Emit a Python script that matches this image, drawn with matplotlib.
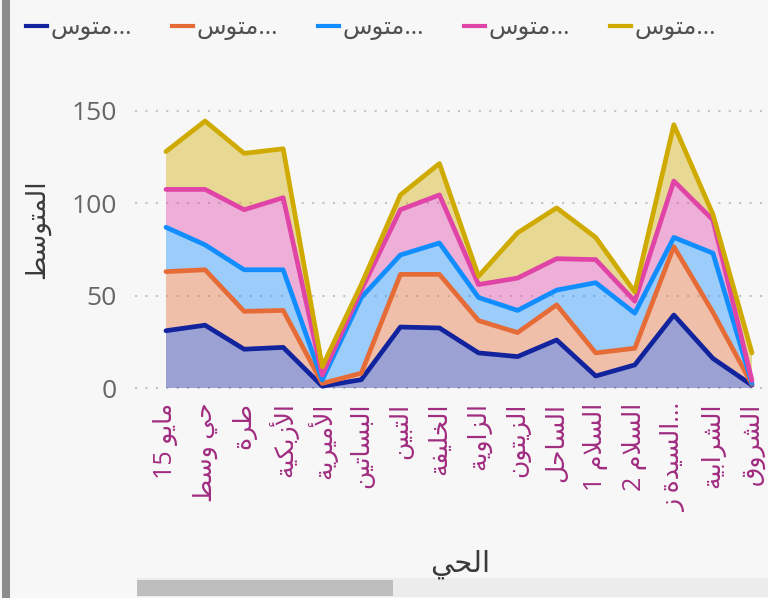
import re
import numpy as np
import matplotlib
matplotlib.use("Agg")
import matplotlib.pyplot as plt
from matplotlib.lines import Line2D
from matplotlib.patches import Rectangle

plt.rcParams['font.family'] = ['Open Sans', 'DejaVu Sans']

# الأحياء (categories)
districts = ["15 مايو", "حي وسط", "طرة", "الأزبكية", "الأميرية", "البساتين",
             "التبين", "الخليفة", "الزاوية", "الزيتون", "الساحل", "السلام 1",
             "السلام 2", "السيدة ز...", "الشرابية", "الشروق"]

# legend labels (truncated as in the report)
series_names = ["متوس...", "متوس...", "متوس...", "متوس...", "متوس..."]

# stacked series values (bottom -> top)
s_navy   = [31, 34, 21, 22, 1, 4.5, 33, 32.5, 19, 17, 26, 6.5, 12.5, 39.5, 16, 1.5]
s_orange = [32, 30, 20.5, 20, 1.5, 3.5, 28.5, 29, 17.5, 13, 19, 12.5, 9, 37, 25, 0.5]
s_blue   = [24, 13.5, 22.5, 22, 1.8, 41, 10.5, 17, 12.5, 12, 8, 38, 19, 5, 32, 0.5]
s_pink   = [20.5, 30, 32.5, 39, 2.7, 4, 24.5, 26, 7, 17.5, 17, 12.5, 6.5, 30.5, 18, 1.5]
s_gold   = [20.5, 37, 30.5, 26.5, 4.5, 3, 8, 17, 4.5, 24.5, 27.5, 12, 5, 30.5, 3, 15]

yticks = [0, 50, 100, 150]

colors = ['#12239E', '#E66C37', '#118DFF', '#E044A7', '#CFAA00']

# --- tiny arabic shaping + bidi, matplotlib does not do it itself ---
FORMS = {
    'ا': ('\uFE8D', '\uFE8E'), 'أ': ('\uFE83', '\uFE84'),
    'ب': ('\uFE8F', '\uFE90', '\uFE91', '\uFE92'), 'ة': ('\uFE93', '\uFE94'),
    'ت': ('\uFE95', '\uFE96', '\uFE97', '\uFE98'), 'ح': ('\uFEA1', '\uFEA2', '\uFEA3', '\uFEA4'),
    'خ': ('\uFEA5', '\uFEA6', '\uFEA7', '\uFEA8'), 'د': ('\uFEA9', '\uFEAA'),
    'ر': ('\uFEAD', '\uFEAE'), 'ز': ('\uFEAF', '\uFEB0'),
    'س': ('\uFEB1', '\uFEB2', '\uFEB3', '\uFEB4'), 'ش': ('\uFEB5', '\uFEB6', '\uFEB7', '\uFEB8'),
    'ط': ('\uFEC1', '\uFEC2', '\uFEC3', '\uFEC4'), 'ف': ('\uFED1', '\uFED2', '\uFED3', '\uFED4'),
    'ق': ('\uFED5', '\uFED6', '\uFED7', '\uFED8'), 'ك': ('\uFED9', '\uFEDA', '\uFEDB', '\uFEDC'),
    'ل': ('\uFEDD', '\uFEDE', '\uFEDF', '\uFEE0'), 'م': ('\uFEE1', '\uFEE2', '\uFEE3', '\uFEE4'),
    'ن': ('\uFEE5', '\uFEE6', '\uFEE7', '\uFEE8'), 'و': ('\uFEED', '\uFEEE'),
    'ي': ('\uFEF1', '\uFEF2', '\uFEF3', '\uFEF4'),
}
LAMALEF = {'ا': ('\uFEFB', '\uFEFC'), 'أ': ('\uFEF7', '\uFEF8')}


def shape(s):
    out = []
    i = 0
    n = len(s)
    while i < n:
        c = s[i]
        if c not in FORMS:
            out.append(c)
            i += 1
            continue
        prev = s[i - 1] if i > 0 else ''
        link_prev = prev in FORMS and len(FORMS[prev]) == 4
        if c == 'ل' and i + 1 < n and s[i + 1] in LAMALEF:
            iso, fin = LAMALEF[s[i + 1]]
            out.append(fin if link_prev else iso)
            i += 2
            continue
        nxt = s[i + 1] if i + 1 < n else ''
        f = FORMS[c]
        link_next = len(f) == 4 and nxt in FORMS
        if link_prev and link_next:
            out.append(f[3])
        elif link_prev:
            out.append(f[1])
        elif link_next:
            out.append(f[2])
        else:
            out.append(f[0])
        i += 1
    return out


def ar(s):
    g = shape(s)
    types = []
    last = 'L'
    for c in g:
        if '\uFE70' <= c <= '\uFEFF':
            t = 'R'
            last = 'R'
        elif c.isdigit():
            t = 'AN' if last == 'R' else 'L'
        elif c in ' .':
            t = 'N'
        else:
            t = 'L'
            last = 'L'
        types.append(t)
    lev = []
    for i, t in enumerate(types):
        if t == 'N':
            p = next((types[j] for j in range(i - 1, -1, -1) if types[j] != 'N'), 'L')
            q = next((types[j] for j in range(i + 1, len(types)) if types[j] != 'N'), 'L')
            lev.append(1 if p != 'L' and q != 'L' else 0)
        else:
            lev.append(0 if t == 'L' else 1)
    res = ''
    i = 0
    while i < len(g):
        j = i
        while j < len(g) and lev[j] == lev[i]:
            j += 1
        run = ''.join(g[i:j])
        if lev[i] == 1:
            run = re.sub(r'\d+', lambda m: m.group()[::-1], run[::-1])
        res += run
        i = j
    return res


bg = '#F7F7F7'
fig = plt.figure(figsize=(7.68, 5.98), dpi=100, facecolor=bg)
ax = fig.add_axes([135 / 768, 1 - 390 / 598, 633 / 768, 295 / 598])
ax.set_facecolor(bg)

x = np.arange(len(districts))
vals = np.array([s_navy, s_orange, s_blue, s_pink, s_gold])
ax.stackplot(x, vals, colors=colors, alpha=0.4, linewidth=0)
tops = np.cumsum(vals, axis=0)
for top, col in zip(tops, colors):
    ax.plot(x, top, color=col, lw=3.4, solid_joinstyle='round', solid_capstyle='round', zorder=3)

ax.set_xlim(-0.793, 15.41)
ax.set_ylim(-1.08, 158.6)
ax.set_yticks(yticks)
ax.yaxis.grid(True, color='#C4C4C4', linestyle=(0, (1, 4)), lw=1.5)
ax.set_axisbelow(True)
for sp in ax.spines.values():
    sp.set_visible(False)
ax.tick_params(axis='y', length=0, pad=13, labelsize=19, labelcolor='#666666')
ax.tick_params(axis='x', length=0, pad=9)
ax.set_xticks(x)
ax.set_xticklabels([ar(d) for d in districts], rotation=90, ha='center', va='top',
                   fontsize=18, color='#A02C80')

# axis titles
fig.text(37 / 768, 1 - 229 / 598, ar("المتوسط"), rotation=90, ha='center', va='center',
         fontsize=19, color='#3A3A3A')
fig.text(460 / 768, 1 - 564 / 598, ar("الحي"), ha='center', va='center',
         fontsize=21, color='#3A3A3A')

# legend
for k, (name, col) in enumerate(zip(series_names, colors)):
    x0 = 26 + 146 * k
    fig.add_artist(Line2D([x0 / 768, (x0 + 21) / 768], [1 - 26 / 598, 1 - 26 / 598],
                          transform=fig.transFigure, color=col, lw=3))
    fig.text((x0 + 25) / 768, 1 - 28 / 598, ar(name), ha='left', va='center',
             fontsize=17.5, color='#505050')

# scrollbar and left border of the visual
fig.add_artist(Rectangle((137 / 768, 1 - 597 / 598), 631 / 768, 19 / 598,
                         transform=fig.transFigure, color='#ECECEC', lw=0))
fig.add_artist(Rectangle((137 / 768, 1 - 596 / 598), 256 / 768, 16 / 598,
                         transform=fig.transFigure, color='#BEBEBE', lw=0))
fig.add_artist(Rectangle((2 / 768, 0), 8 / 768, 1,
                         transform=fig.transFigure, color='#8C8C8C', lw=0))

fig.savefig('out.png', dpi=100, facecolor=bg)
